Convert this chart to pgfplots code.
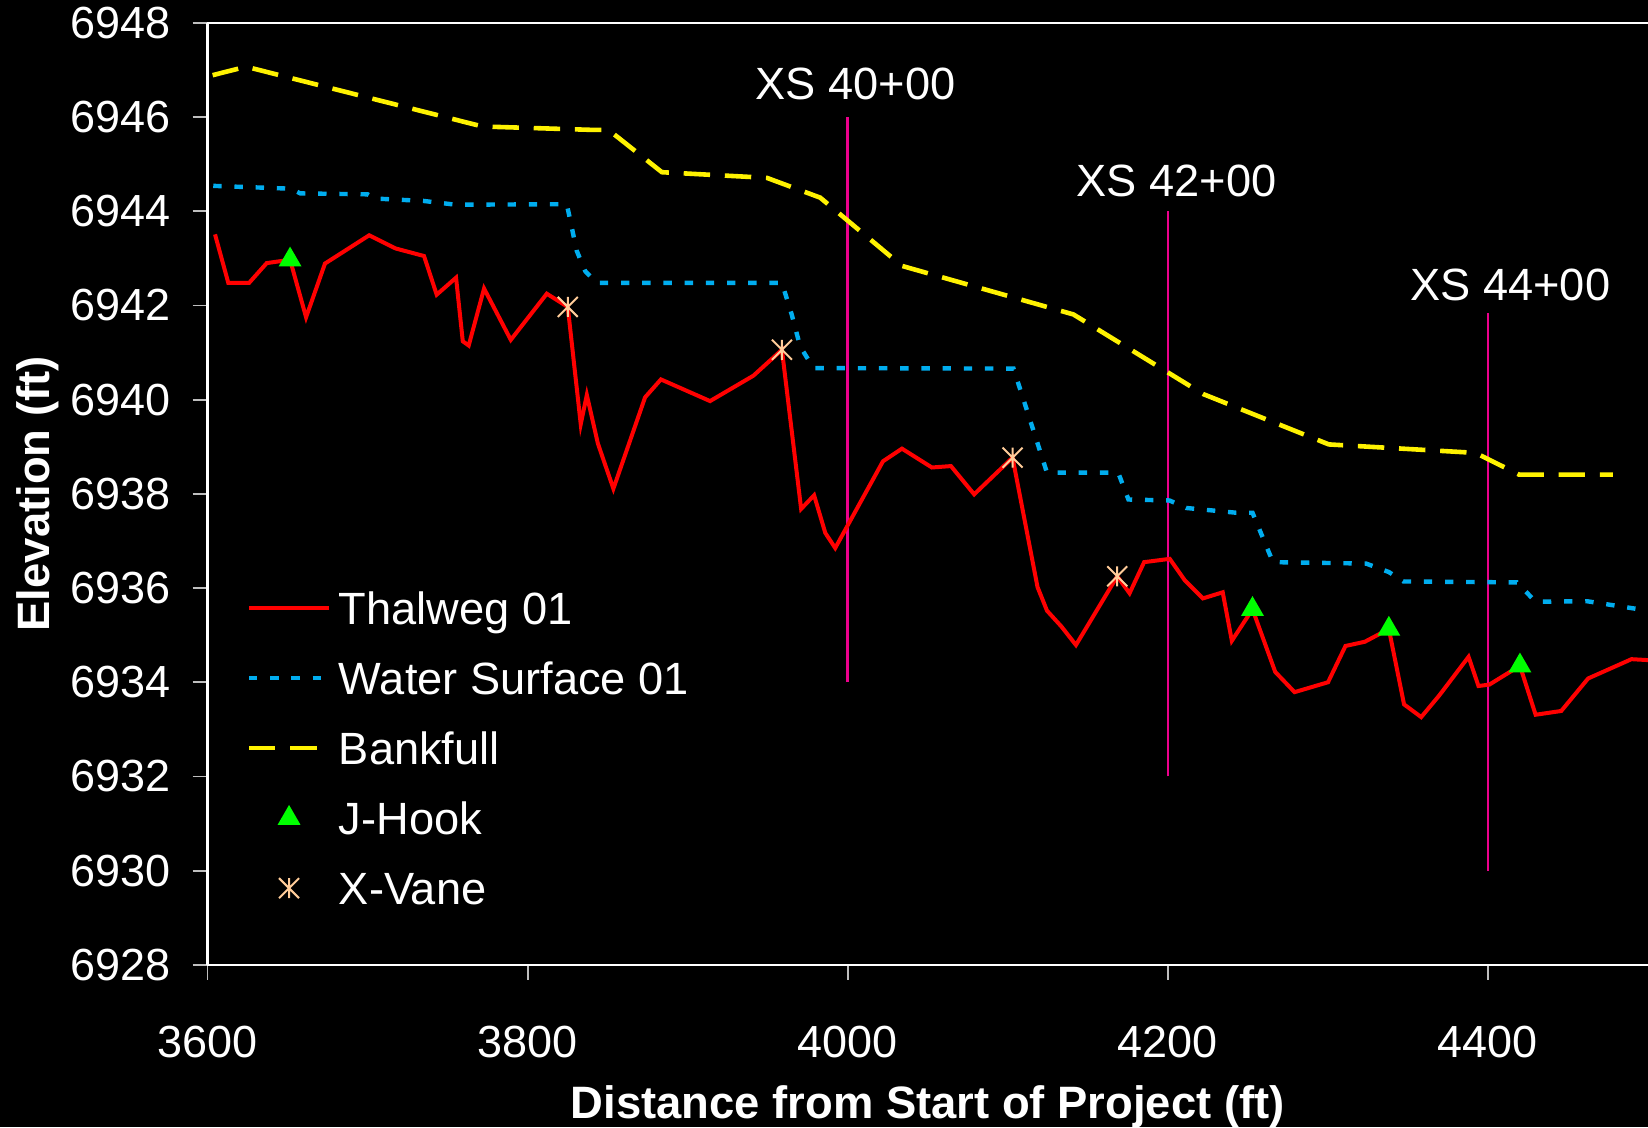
\documentclass[border=0pt]{standalone}
\usepackage{pgfplots}
\pgfplotsset{compat=1.18}
\usepackage{fontspec}
\setmainfont{Liberation Sans}
\definecolor{peach}{RGB}{255,204,153}
\definecolor{tickgray}{RGB}{190,190,190}
\pgfdeclareplotmark{xvane}{%
  \pgfpathmoveto{\pgfqpoint{0pt}{-\pgfplotmarksize}}%
  \pgfpathlineto{\pgfqpoint{0pt}{\pgfplotmarksize}}%
  \pgfpathmoveto{\pgfqpoint{-\pgfplotmarksize}{-\pgfplotmarksize}}%
  \pgfpathlineto{\pgfqpoint{\pgfplotmarksize}{\pgfplotmarksize}}%
  \pgfpathmoveto{\pgfqpoint{-\pgfplotmarksize}{\pgfplotmarksize}}%
  \pgfpathlineto{\pgfqpoint{\pgfplotmarksize}{-\pgfplotmarksize}}%
  \pgfusepathqstroke}
\pgfplotsset{
  lineleg/.style={legend image code/.code={\draw[##1] (0pt,0pt) -- (20pt,0pt);}},
  markleg/.style={legend image code/.code={\path[draw=none] (0pt,0pt) -- (20pt,0pt); \draw[##1] plot coordinates {(10pt,0pt)};}},
}
\begin{document}
\begin{tikzpicture}
\fill[black] (-51.875pt,-40.55pt) rectangle (360.125pt,241.2pt);
\useasboundingbox (-51.875pt,-40.55pt) rectangle (360.125pt,241.2pt);
\begin{axis}[
  scale only axis, width=360.125pt, height=235.475pt,
  at={(0pt,0pt)}, anchor=south west,
  xmin=3600, xmax=4500, ymin=6928, ymax=6948,
  xtick={3600,3800,4000,4200,4400},
  ytick={6928,6930,6932,6934,6936,6938,6940,6942,6944,6946,6948},
  axis x line*=bottom, axis y line*=left,
  axis line style={white, line width=0.6pt},
  tick align=outside, major tick length=3.7pt,
  tick style={color=tickgray, line width=0.45pt},
  minor tick num=0,
  /pgf/number format/1000 sep={},
  /pgf/number format/assume math mode=true,
  tick label style={font=\fontsize{11.25}{13}\selectfont, text=white},
  xticklabel style={yshift=-8.1pt},
  yticklabel style={xshift=-1.9pt},
  xlabel={Distance from Start of Project (ft)},
  ylabel={Elevation (ft)},
  label style={font=\bfseries\fontsize{11.35}{13}\selectfont, text=white},
  x label style={at={(axis description cs:0.5,-0.1507)}, anchor=center},
  y label style={at={(axis description cs:-0.1178,0.5)}, anchor=center},
  clip=false,
  legend cell align=left,
  legend style={at={(axis description cs:0.0267,0.3965)}, anchor=north west,
    draw=none, fill=none, text=white, font=\fontsize{11.3}{13}\selectfont,
    inner sep=0pt, row sep=9.5pt, column sep=1.9pt,
    nodes={inner sep=0pt, text height=8pt, text depth=0pt}},
]
% cross-section lines
\addplot[magenta, line width=0.65pt, forget plot] coordinates {(4000,6934) (4000,6946)};
\addplot[magenta, line width=0.65pt, forget plot] coordinates {(4200,6932) (4200,6944)};
\addplot[magenta, line width=0.65pt, forget plot] coordinates {(4400,6930) (4400,6941.85)};

\addplot[red, line width=1pt, mark=none, lineleg] coordinates {
(3604.7,6943.51) (3613,6942.48) (3626,6942.48) (3637,6942.90) (3651.6,6942.97)
(3661.6,6941.75) (3673.4,6942.89) (3701,6943.49) (3717.6,6943.21) (3735.3,6943.05)
(3743.2,6942.23) (3755.3,6942.59) (3759.5,6941.24) (3763.2,6941.15) (3772.8,6942.36)
(3789.5,6941.27) (3812,6942.25) (3825.1,6941.97) (3833.2,6939.48) (3837,6940.10)
(3843.9,6939.07) (3853.6,6938.11) (3873.4,6940.05) (3883.3,6940.43) (3914,6939.97)
(3941.1,6940.51) (3958.9,6941.06) (3970.9,6937.68) (3979,6937.97) (3986,6937.17)
(3992.2,6936.85) (4022,6938.69) (4033.9,6938.96) (4052.6,6938.56) (4064.5,6938.59)
(4079,6937.99) (4103,6938.77) (4118.6,6936.02) (4124.5,6935.52) (4133.6,6935.18)
(4142.6,6934.79) (4168.4,6936.25) (4176.1,6935.89) (4185.2,6936.55) (4201.2,6936.62)
(4210.7,6936.16) (4221.9,6935.78) (4234.3,6935.91) (4240,6934.88) (4252.9,6935.55)
(4267.1,6934.22) (4279.2,6933.79) (4300.1,6934.00) (4311,6934.77) (4323.1,6934.86)
(4338.1,6935.13) (4347.6,6933.53) (4358.3,6933.26) (4369.6,6933.72) (4387.9,6934.54)
(4394.1,6933.92) (4400.9,6933.95) (4420,6934.35) (4429.8,6933.31) (4445.8,6933.39)
(4462.6,6934.08) (4489.7,6934.49) (4500,6934.47)};
\addlegendentry{Thalweg 01}

\addplot[cyan, line width=1.1pt, dash pattern=on 2.1pt off 3.2pt, mark=none, lineleg] coordinates {
(3603.6,6944.54) (3652,6944.48) (3658,6944.38) (3700,6944.36) (3705,6944.27)
(3735,6944.22) (3755,6944.14) (3824.5,6944.15) (3830.7,6943.16) (3836,6942.73)
(3843.2,6942.48) (3958.9,6942.48) (3965,6941.81) (3970.3,6941.13) (3978.6,6940.67)
(4103.6,6940.66) (4124.5,6938.45) (4169,6938.45) (4175.4,6937.88) (4201,6937.86)
(4211.6,6937.70) (4242.5,6937.60) (4252.9,6937.60) (4265.7,6936.55) (4323.9,6936.52)
(4338.1,6936.34) (4347.2,6936.14) (4418.1,6936.12) (4429.8,6935.71) (4462,6935.72)
(4500,6935.52)};
\addlegendentry{Water Surface 01}

\addplot[yellow, line width=1.15pt, dash pattern=on 6.6pt off 3.7pt, mark=none, lineleg] coordinates {
(3603.2,6946.89) (3624.1,6947.07) (3767.2,6945.84) (3772.4,6945.80) (3839,6945.73)
(3850.5,6945.73) (3883.9,6944.83) (3949.5,6944.71) (3982.8,6944.29) (4033.9,6942.84)
(4141,6941.81) (4222,6940.12) (4300.6,6939.05) (4392.3,6938.87) (4419.4,6938.41)
(4478,6938.41)};
\addlegendentry{Bankfull}

\addplot[only marks, mark=triangle*, mark size=2.9pt, color=green, markleg]
  coordinates {(3651.6,6942.97) (4252.9,6935.55) (4338.1,6935.13) (4420,6934.35)};
\addlegendentry{J-Hook}

\addplot[only marks, mark=xvane, mark size=2.5pt, color=peach, line width=0.5pt, markleg]
  coordinates {(3825.1,6941.97) (3958.9,6941.06) (4103,6938.77) (4168.4,6936.25)};
\addlegendentry{X-Vane}

\draw[white, line width=0.6pt] (rel axis cs:0,1) -- (rel axis cs:1,1);
\node[text=white, font=\fontsize{11.3}{13}\selectfont] at (axis cs:4005,6946.71) {XS 40+00};
\node[text=white, font=\fontsize{11.3}{13}\selectfont] at (axis cs:4205.5,6944.65) {XS 42+00};
\node[text=white, font=\fontsize{11.3}{13}\selectfont] at (axis cs:4414,6942.44) {XS 44+00};
\end{axis}
\end{tikzpicture}
\end{document}
